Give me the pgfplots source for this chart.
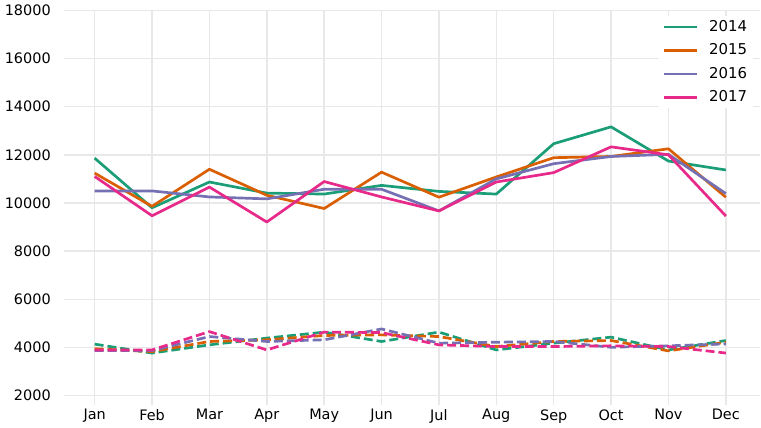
\documentclass[border=0pt]{standalone}
\usepackage{pgfplots}
\pgfplotsset{compat=1.18}
\usepackage{pgfplotstable}
\usepackage{fontspec}
\setmainfont{DejaVu Sans}

\definecolor{c14}{HTML}{1B9E77}
\definecolor{c15}{HTML}{D95F02}
\definecolor{c16}{HTML}{7570B3}
\definecolor{c17}{HTML}{E7298A}
\definecolor{gridc}{HTML}{E8E8E8}

% solid = upper series, dashed = lower series
\pgfplotstableread{
m  a14   a15   a16   a17   b14  b15  b16  b17
0  11860 11240 10500 11100 4140 3950 3870 3900
1  9800  9860  10500 9470  3770 3830 3870 3900
2  10870 11400 10250 10660 4110 4250 4455 4660
3  10410 10320 10170 9210  4390 4320 4250 3900
4  10370 9770  10570 10890 4640 4500 4320 4640
5  10730 11280 10570 10250 4250 4525 4770 4620
6  10480 10240 9670  9670  4640 4455 4180 4110
7  10370 11080 11000 10870 3900 4040 4220 4040
8  12460 11880 11630 11260 4180 4250 4250 4040
9  13160 11930 11930 12330 4430 4290 4010 4070
10 11740 12250 12020 12000 3900 3860 4070 4040
11 11370 10240 10390 9460  4290 4220 4150 3770
}\sales

\pgfplotsset{ln/.style={line width=2.7bp, line join=round},
  dl/.style={ln, dash pattern=on 9bp off 4bp, forget plot}}

\begin{document}
\begin{tikzpicture}
\fontsize{14.5bp}{17bp}\selectfont
\begin{axis}[
  scale only axis,
  width=700bp, height=397bp,
  xmin=-0.54, xmax=11.6,
  ymin=1600, ymax=18000,
  xtick={0,...,11},
  xticklabels={Jan,Feb,Mar,Apr,May,Jun,Jul,Aug,Sep,Oct,Nov,Dec},
  ytick={2000,4000,...,18000},
  scaled y ticks=false,
  /pgf/number format/1000 sep={},
  /pgf/number format/assume math mode=true,
  ticklabel style={font=\fontsize{14.5bp}{17bp}\selectfont},
  axis line style={draw=none},
  major tick length=0pt,
  grid=major,
  major grid style={draw=gridc, line width=1.5bp},
  xticklabel shift=-1bp,
  yticklabel shift=8bp,
  legend style={draw=none, fill=white, at={(0.99,0.985)}, anchor=north east,
    font=\fontsize{15bp}{17bp}\selectfont, row sep=6.3bp,
    inner xsep=4bp, inner ysep=2bp},
  legend cell align=left,
  legend image code/.code={\draw[#1] (0bp,0bp) -- (33bp,0bp);
    \path (42bp,0bp);},
]
\addplot[c14, ln] table[x=m,y=a14] {\sales};
\addplot[c15, ln] table[x=m,y=a15] {\sales};
\addplot[c16, ln] table[x=m,y=a16] {\sales};
\addplot[c17, ln] table[x=m,y=a17] {\sales};
\legend{2014,2015,2016,2017}
\addplot[c14, dl] table[x=m,y=b14] {\sales};
\addplot[c15, dl] table[x=m,y=b15] {\sales};
\addplot[c16, dl] table[x=m,y=b16] {\sales};
\addplot[c17, dl] table[x=m,y=b17] {\sales};
\end{axis}
\end{tikzpicture}
\end{document}
